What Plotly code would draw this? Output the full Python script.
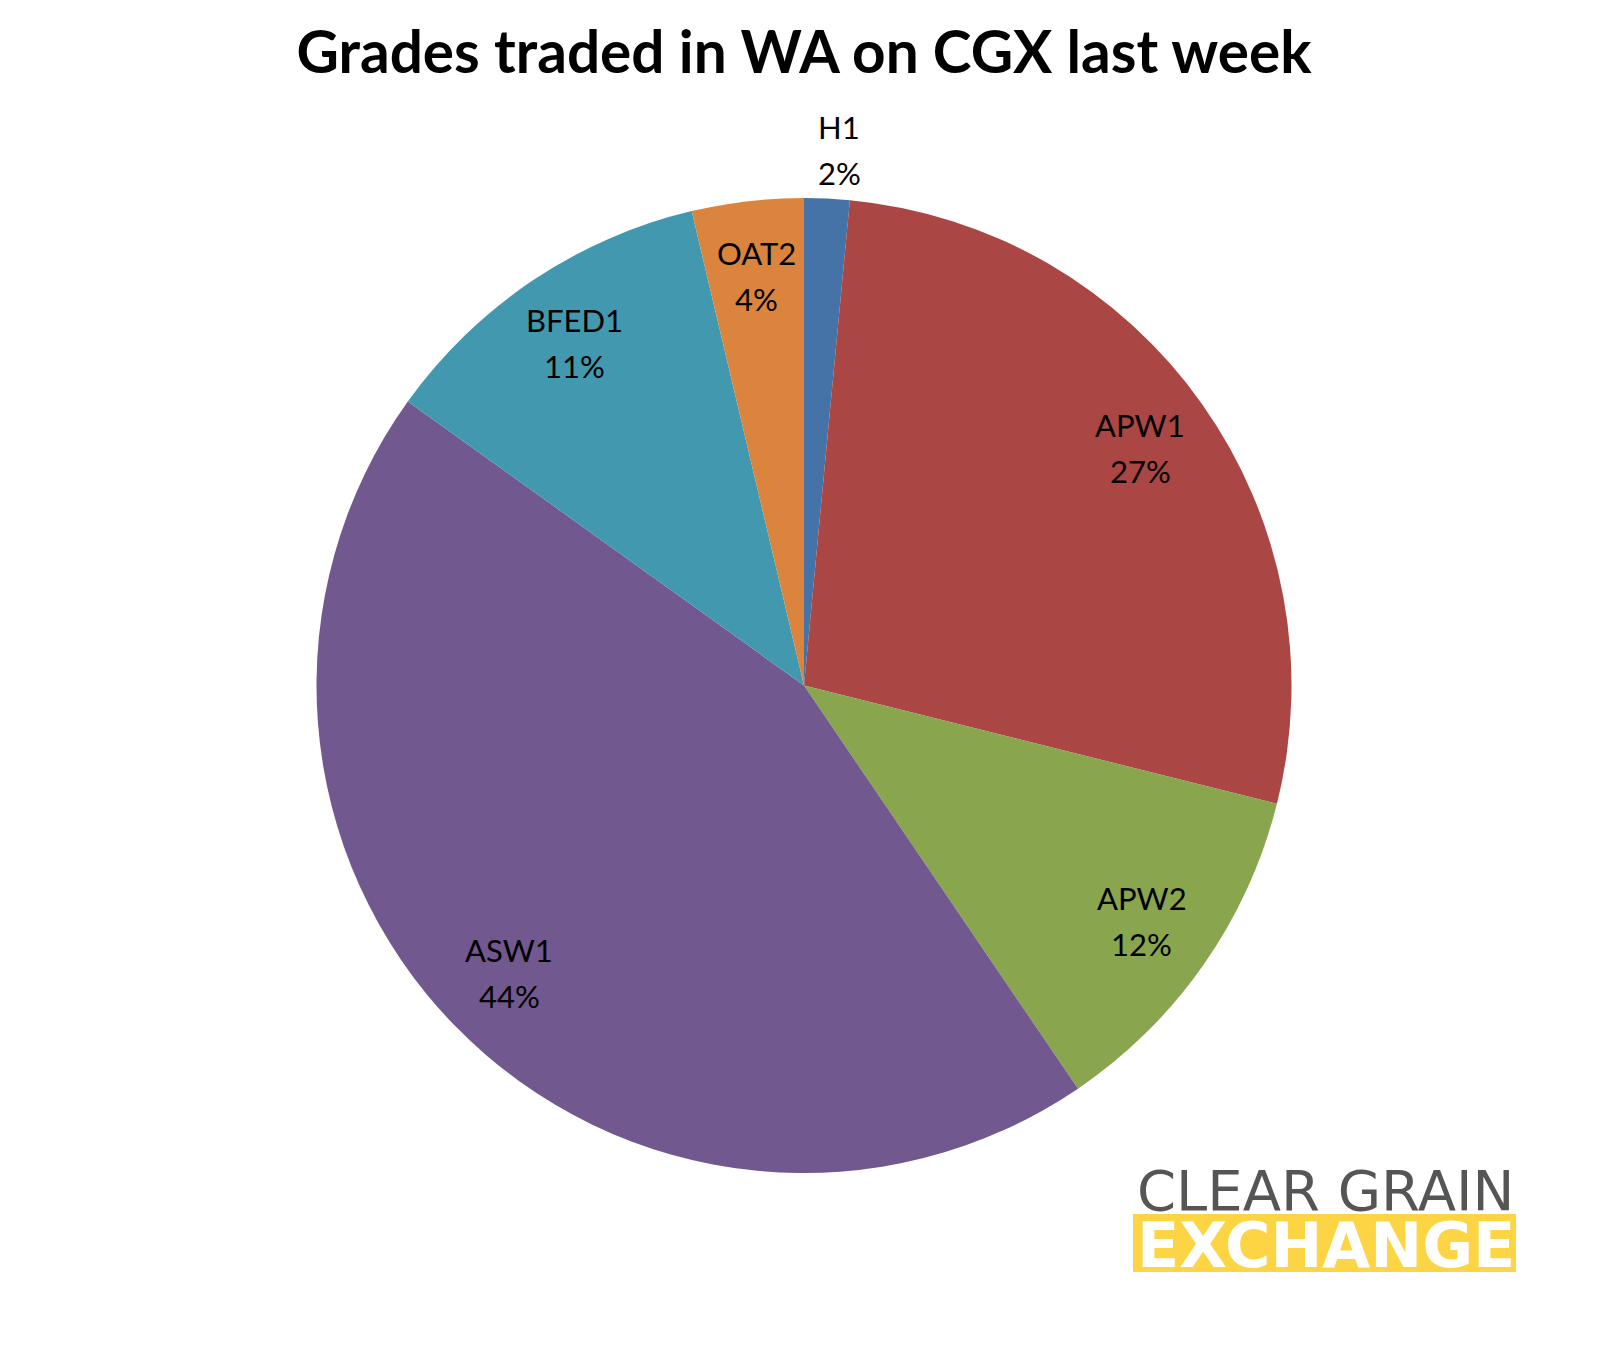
import math
import plotly.graph_objects as go

# ---- data ----
grades = ["H1", "APW1", "APW2", "ASW1", "BFED1", "OAT2"]
shares = [1.5, 27.4, 11.6, 44.4, 11.4, 3.7]
colors = ["#4572A7", "#AA4643", "#89A54E", "#71588F", "#4198AF", "#DB843D"]
title_text = "Grades traded in WA on CGX last week"

W, H = 1608, 1352
OFF = 8  # page body margin in the screenshot
CX, CY, R = 804.0, 685.5, 487.5  # pie centre/radius (screenshot pixels)


def px_x(x):
    return (x - OFF) / W


def px_y(y):
    return 1 - (y - OFF) / H


fig = go.Figure()
fig.add_trace(go.Pie(
    labels=grades, values=shares, sort=False, direction="clockwise", rotation=0,
    marker=dict(colors=colors, line=dict(width=0)),
    textinfo="none", hoverinfo="label+percent", showlegend=False,
    domain=dict(x=[px_x(CX - R), px_x(CX + R)],
                y=[px_y(CY + R), px_y(CY - R)]),
))

# data labels placed along each slice's mid-angle
total = sum(shares)
cum = 0.0
annotations = []
LINE = 23
lab_font = dict(family="Lato, Carlito, sans-serif", size=31, color="#000000")
for g, v in zip(grades, shares):
    mid = (cum + v / 2) / total * 2 * math.pi
    cum += v
    frac = v / total
    rf = 1.10 if frac < 0.03 else 0.845
    lx = CX + rf * R * math.sin(mid)
    ly = CY - rf * R * math.cos(mid)
    if frac < 0.03:
        lx += 10
    for txt, dy in ((g, -LINE), (f"{round(frac * 100)}%", LINE)):
        annotations.append(dict(
            x=px_x(lx), y=px_y(ly + dy), xref="paper", yref="paper",
            text=txt, showarrow=False, font=lab_font,
            xanchor="center", yanchor="middle",
        ))

# logo
annotations.append(dict(
    x=px_x(1325), y=px_y(1190), xref="paper", yref="paper",
    text="CLEAR GRAIN", showarrow=False, height=46,
    font=dict(family="DejaVu Sans", size=56, color="#555555"),
    xanchor="center", yanchor="middle",
))
annotations.append(dict(
    x=px_x(1326), y=px_y(1245), xref="paper", yref="paper",
    text="<b>EXCHANGE</b>", showarrow=False, height=50,
    font=dict(family="DejaVu Sans", size=62, color="#FFFFFF"),
    xanchor="center", yanchor="middle",
))

fig.update_layout(
    width=W, height=H,
    margin=dict(l=0, r=0, t=0, b=0),
    paper_bgcolor="#FFFFFF", plot_bgcolor="#FFFFFF",
    title=dict(text=f"<b>{title_text}</b>", x=px_x(804), xanchor="center",
               y=px_y(53), yanchor="middle",
               font=dict(family="Lato, sans-serif", size=58.5, color="#000000")),
    annotations=annotations,
    shapes=[dict(type="rect", xref="paper", yref="paper",
                 x0=px_x(1133), x1=px_x(1516), y0=px_y(1272), y1=px_y(1214),
                 fillcolor="#FCD444", line=dict(width=0), layer="below")],
)

fig.write_html("out.html")
